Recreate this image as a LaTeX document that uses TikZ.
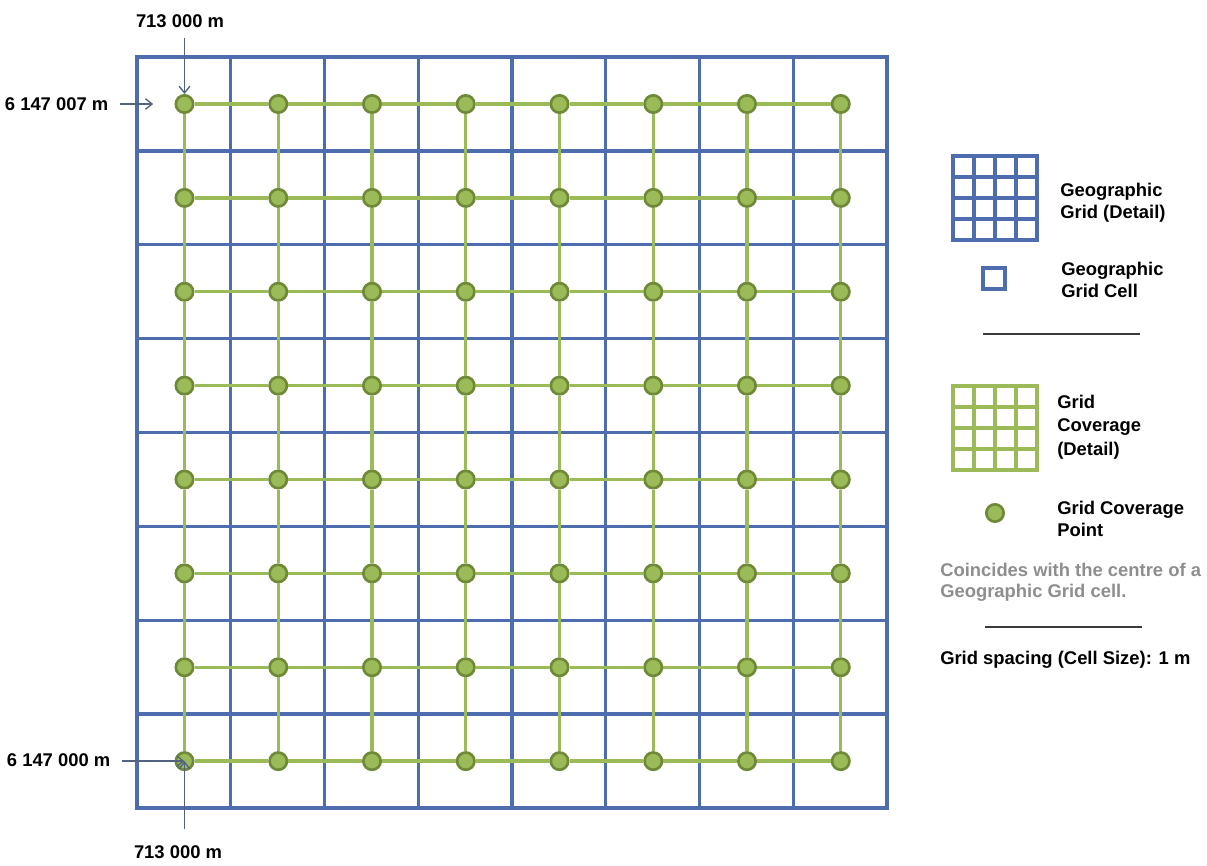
\documentclass[tikz,border=0pt]{standalone}
\usepackage{fontspec}
\setmainfont{Liberation Sans}
\usepackage{tikz}
\usetikzlibrary{arrows.meta}
\definecolor{ggBlue}{HTML}{4E6DAE}
\definecolor{gcGreen}{HTML}{9BBB59}
\definecolor{gcGreenDark}{HTML}{6F8A37}
\definecolor{ptArrow}{HTML}{52627F}
\definecolor{noteGray}{HTML}{8E8E8E}
\definecolor{ruleGray}{HTML}{3A3A3A}

\begin{document}
\begin{tikzpicture}[
  x=0.75pt,y=-0.75pt,
  every node/.style={font=\fontsize{13.8}{16.5}\selectfont\bfseries},
  geoline/.style={draw=ggBlue,line width=2.6pt},
  covline/.style={draw=gcGreen,line width=2.5pt},
  covpoint/.style={circle,fill=gcGreen,draw=gcGreenDark,line width=2pt,
    minimum size=13pt,inner sep=0pt},
  pointer/.style={draw=ptArrow,line width=1pt,-{Straight Barb[length=5pt,width=8pt]}},
  legtext/.style={anchor=west,align=left,inner sep=0pt},
  rule/.style={draw=ruleGray,line width=1.1pt}
]
  \useasboundingbox (0,0) rectangle (1207,865);

  % geographic grid
  \draw[geoline] (137,57) rectangle (887,808);
  \foreach \k in {1,...,7} {
    \draw[geoline] (137+93.75*\k,57) -- (137+93.75*\k,808);
    \draw[geoline] (137,57+93.875*\k) -- (887,57+93.875*\k);
  }

  % grid coverage points
  \foreach \i in {1,...,8} {
    \foreach \j in {1,...,8}
      \node[covpoint] (p-\i-\j) at (184.5+93.75*\i-93.75,104+93.875*\j-93.875) {};
  }
  \foreach \i in {1,...,8} {
    \foreach \j [evaluate=\j as \k using int(\j+1)] in {1,...,7} {
      \draw[covline] (p-\i-\j) -- (p-\i-\k);
      \draw[covline] (p-\j-\i) -- (p-\k-\i);
    }
  }

  % origin labels
  \node (e-top) at (180,21) {713 000 m};
  \node[anchor=east] (n-top) at (113,104) {6 147 007 m};
  \node[anchor=east] (n-low) at (115,760) {6 147 000 m};
  \node (e-low) at (178,852) {713 000 m};
  \draw[pointer] ([yshift=-4pt]e-top.south -| p-1-1) -- (p-1-1.north);
  \draw[pointer,shorten <=5pt,shorten >=16pt] (n-top.east |- p-1-1) -- (p-1-1.west);
  \draw[pointer,shorten <=5pt] (n-low.east |- p-1-8) -- (p-1-8.center);
  \draw[pointer] ([yshift=9pt]e-low.north -| p-1-8) -- (p-1-8.center);

  % legend
  \draw[geoline] (953,156) rectangle (1037,240);
  \foreach \k in {1,2,3} {
    \draw[geoline] (953+21*\k,156) -- (953+21*\k,240);
    \draw[geoline] (953,156+21*\k) -- (1037,156+21*\k);
  }
  \node[legtext] (gg-text) at (1060,203) {Geographic\\Grid (Detail)};
  \draw[geoline] (983,268) rectangle (1005,289);
  \node[legtext] (gc-text) at (1061,280) {Geographic\\Grid Cell};
  \draw[rule] (983,334) -- (1140,334);

  \draw[covline] (953,386) rectangle (1037,470);
  \foreach \k in {1,2,3} {
    \draw[covline] (953+21*\k,386) -- (953+21*\k,470);
    \draw[covline] (953,386+21*\k) -- (1037,386+21*\k);
  }
  \node[legtext,font=\fontsize{13.8}{17.5}\selectfont\bfseries] (cov-text) at (1057,427)
    {Grid\\Coverage\\(Detail)};
  \node[covpoint] (leg-pt) at (995,513) {};
  \node[legtext] (pt-text) at (1057,519) {Grid Coverage\\Point};
  \node[legtext,text=noteGray,font=\fontsize{13.8}{15.5}\selectfont\bfseries] (note)
    at (940,582) {Coincides with the centre of a\\Geographic Grid cell.};
  \draw[rule] (985,627) -- (1142,627);
  \node[legtext] (spacing) at (940,660) {Grid spacing (Cell Size): 1 m};
\end{tikzpicture}
\end{document}
